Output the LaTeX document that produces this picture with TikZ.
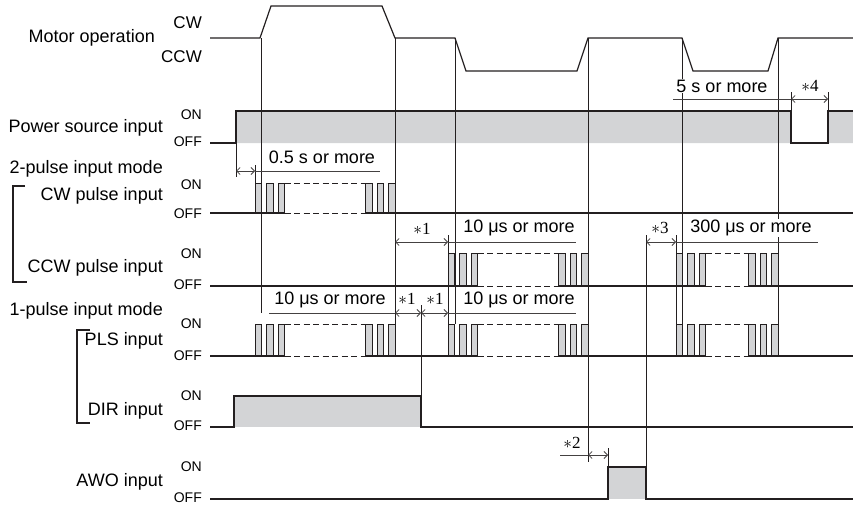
\documentclass[tikz,border=0pt]{standalone}
\usepackage{fontspec}
\setmainfont{Liberation Sans}
\newfontfamily\serifnum{Liberation Serif}
\usetikzlibrary{arrows.meta}
\definecolor{sig}{HTML}{D3D4D6}
\definecolor{ink}{HTML}{231F20}
\begin{document}
\begin{tikzpicture}[x=1pt,y=-1pt,line join=miter,
  wave/.style={draw=ink,line width=1.2pt},
  guide/.style={draw=ink,line width=.9pt},
  pulse/.style={fill=sig,draw=ink,line width=.9pt},
  dim/.style={draw=ink!85,line width=.8pt,{Straight Barb[length=3.5pt,width=7pt]}-{Straight Barb[length=3.5pt,width=7pt]}},
  uline/.style={draw=ink!85,line width=.8pt},
  lbl/.style={font=\fontsize{18}{20}\selectfont,anchor=mid east,inner sep=0pt},
  lvl/.style={font=\fontsize{14}{16}\selectfont,anchor=mid east,inner sep=0pt},
  ann/.style={font=\fontsize{18}{20}\selectfont,fill=white,inner sep=1pt},
  star/.style={font=\fontsize{17}{19}\selectfont\serifnum,inner sep=.5pt}]
  \useasboundingbox (0,0) rectangle (853,506);
  \fill[sig] (236,143)--(236,111)--(791,111)--(791,143)--(828,143)--(828,111)--(853,111)--(853,143)--cycle;
  \fill[sig] (234,396) rectangle (421,427); \fill[sig] (608,467) rectangle (646,499);
  \foreach \a/\b/\hi/\lo in {255/395/183/213,448/588/253/286,676/778/253/286,255/395/324/356,448/588/324/356,676/778/324/356}{
    \foreach \p in {0,11.5,23} \filldraw[pulse] (\a+\p,\lo) rectangle (\a+\p+6.5,\hi);
    \foreach \p in {6.5,18,29.5} \filldraw[pulse] (\b-\p,\lo) rectangle (\b-\p+6.5,\hi);
    \draw[wave] (\a,\lo)--(\a+29.5,\lo) (\b-29.5,\lo)--(\b,\lo);
    \draw[wave,line width=.9pt,dash pattern=on 6pt off 3.5pt] (\a+29.5,\hi)--(\b-29.5,\hi) (\a+29.5,\lo)--(\b-29.5,\lo);
  }
  \draw[guide] (261,38)--(261,313) (395,38)--(395,324) (455,38)--(455,324) (588,38)--(588,462)
    (682,38)--(682,324) (778,38)--(778,324) (646,235)--(646,467);
  \draw[guide] (236,143)--(236,177) (255,165)--(255,183) (448,235)--(448,324) (421,305)--(421,396)
    (676,235)--(676,324) (608,448)--(608,467) (791,92)--(791,111) (828,92)--(828,111);
  \draw[wave] (210,38)--(260,38)--(271,6)--(382,6)--(395,38)--(455,38)--(466,71)--(577,71)--(588,38)--(682,38)--(693,71)--(768,71)--(778,38)--(853,38);
  \draw[wave] (210,143)--(236,143)--(236,111)--(791,111)--(791,143)--(828,143)--(828,111)--(853,111);
  \draw[wave] (210,213)--(255,213) (395,213)--(853,213);
  \draw[wave] (210,286)--(448,286) (588,286)--(676,286) (778,286)--(853,286);
  \draw[wave] (210,356)--(255,356) (395,356)--(448,356) (588,356)--(676,356) (778,356)--(853,356);
  \draw[wave] (210,427)--(234,427)--(234,396)--(421,396)--(421,427)--(853,427);
  \draw[wave] (210,499)--(608,499)--(608,467)--(646,467)--(646,499)--(853,499);
  \draw[wave] (25,186)--(13,186)--(13,282)--(27,282) (90,330)--(77,330)--(77,423)--(90,423);
  \draw[dim] (236,171)--(255,171); \draw[uline] (255,171)--(380,171);
  \draw[dim] (395,242)--(448,242); \draw[uline] (448,242)--(576,242);
  \draw[dim] (646,242)--(676,242); \draw[uline] (676,242)--(818,242);
  \draw[uline] (269,313)--(395,313); \draw[dim] (395,313)--(421,313); \draw[dim] (421,313)--(448,313); \draw[uline] (448,313)--(576,313);
  \draw[uline] (560,455)--(588,455); \draw[dim] (588,455)--(608,455);
  \draw[uline] (673,99)--(791,99); \draw[dim] (791,99)--(828,99);
  \node[lbl] (motor) at (155,40) {Motor operation};
  \node[lbl] (pwr) at (163,130) {Power source input};
  \node[lbl] (twomode) at (163,171) {2-pulse input mode};
  \node[lbl] (cwin) at (163,198) {CW pulse input};
  \node[lbl] (ccwin) at (163,270) {CCW pulse input};
  \node[lbl] (onemode) at (163,313) {1-pulse input mode};
  \node[lbl] (plsin) at (163,343) {PLS input};
  \node[lbl] (dirin) at (163,413) {DIR input};
  \node[lbl] (awoin) at (163,484) {AWO input};
  \node[lvl,font=\fontsize{17}{19}\selectfont] (cw) at (202,26) {CW};
  \node[lvl,font=\fontsize{17}{19}\selectfont] (ccw) at (202,60) {CCW};
  \node[lvl] (pwron) at (202,117) {ON}; \node[lvl] (pwroff) at (202,144) {OFF};
  \node[lvl] (cwon) at (202,187) {ON}; \node[lvl] (cwoff) at (202,216) {OFF};
  \node[lvl] (ccwon) at (202,256) {ON}; \node[lvl] (ccwoff) at (202,287) {OFF};
  \node[lvl] (plson) at (202,326) {ON}; \node[lvl] (plsoff) at (202,358) {OFF};
  \node[lvl] (diron) at (202,398) {ON}; \node[lvl] (diroff) at (202,428) {OFF};
  \node[lvl] (awoon) at (202,469) {ON}; \node[lvl] (awooff) at (202,500) {OFF};
  \node[ann] (halfs) at (322,157) {0.5 s or more};
  \node[ann] (tenccw) at (519,228) {10 μs or more};
  \node[ann] (threeh) at (751,228) {300 μs or more};
  \node[ann] (tenpls) at (330,300) {10 μs or more};
  \node[ann] (tenpls2) at (519,300) {10 μs or more};
  \node[ann] (fives) at (722,86) {5 s or more};
  \node[star] (n1a) at (422,229) {$\ast$1};
  \node[star] (n1b) at (407,299) {$\ast$1};
  \node[star] (n1c) at (435,299) {$\ast$1};
  \node[star] (n2) at (572,443) {$\ast$2};
  \node[star] (n3) at (660,228) {$\ast$3};
  \node[star] (n4) at (810,86) {$\ast$4};
\end{tikzpicture}
\end{document}
